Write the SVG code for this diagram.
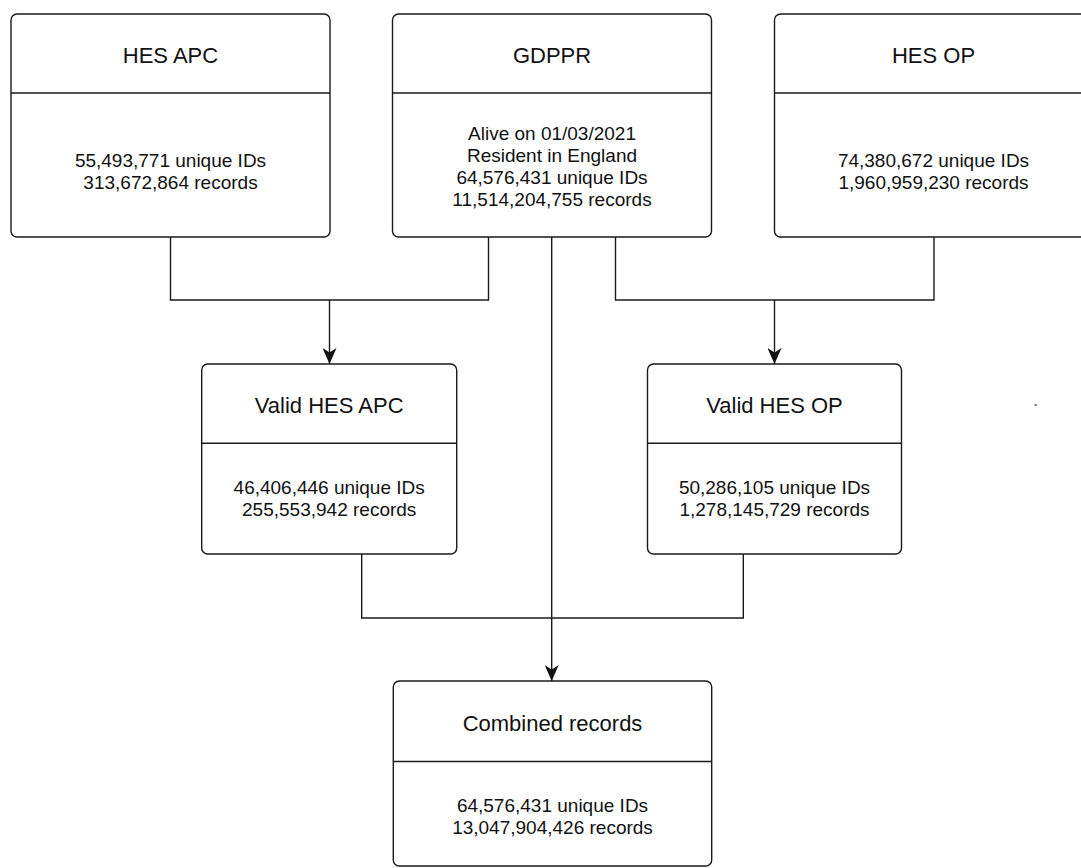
<svg xmlns="http://www.w3.org/2000/svg" width="1081" height="868" viewBox="0 0 1081 868">
<style>
.box{fill:#ffffff;stroke:#1a1a1a;stroke-width:1.4}
.div{stroke:#1a1a1a;stroke-width:1.4;fill:none}
.conn{stroke:#1a1a1a;stroke-width:1.4;fill:none}
.title{font-family:"Liberation Sans",Arial,sans-serif;font-size:22px;fill:#111;text-anchor:middle}
.body{font-family:"Liberation Sans",Arial,sans-serif;font-size:19px;fill:#111;text-anchor:middle}
</style>
<defs>
<marker id="arrow" markerUnits="userSpaceOnUse" viewBox="0 0 16 14" refX="16" refY="7" markerWidth="16" markerHeight="14" orient="auto">
<path d="M0,0 L16,7 L0,14 L4.5,7 Z" fill="#111"/>
</marker>
</defs>
<rect width="1081" height="868" fill="#ffffff"/>
<g id="connectors">
<polyline class="conn" points="170.5,237 170.5,300 488.5,300 488.5,237"/>
<line class="conn" x1="329.5" y1="300" x2="329.5" y2="364" marker-end="url(#arrow)"/>
<polyline class="conn" points="615.5,237 615.5,300 934,300 934,237"/>
<line class="conn" x1="774.5" y1="300" x2="774.5" y2="364" marker-end="url(#arrow)"/>
<polyline class="conn" points="361.7,554 361.7,618 743.3,618 743.3,554"/>
<line class="conn" x1="551.7" y1="237" x2="551.7" y2="681" marker-end="url(#arrow)"/>
</g>
<g id="hes-apc">
<rect class="box" x="11" y="14" width="319" height="223" rx="6"/>
<line class="div" x1="11" y1="93" x2="330" y2="93"/>
<text class="title" x="170.5" y="62.5">HES APC</text>
<text class="body" x="170.5" y="166.5">55,493,771 unique IDs</text>
<text class="body" x="170.5" y="188.5">313,672,864 records</text>
</g>
<g id="gdppr">
<rect class="box" x="392.5" y="14" width="319" height="223" rx="6"/>
<line class="div" x1="392.5" y1="93" x2="711.5" y2="93"/>
<text class="title" x="552" y="62.5">GDPPR</text>
<text class="body" x="552" y="139.5">Alive on 01/03/2021</text>
<text class="body" x="552" y="161.5">Resident in England</text>
<text class="body" x="552" y="183.5">64,576,431 unique IDs</text>
<text class="body" x="552" y="205.5">11,514,204,755 records</text>
</g>
<g id="hes-op">
<rect class="box" x="774.5" y="14" width="319" height="223" rx="6"/>
<line class="div" x1="774.5" y1="93" x2="1093.5" y2="93"/>
<text class="title" x="933.5" y="62.5">HES OP</text>
<text class="body" x="933.5" y="166.5">74,380,672 unique IDs</text>
<text class="body" x="933.5" y="188.5">1,960,959,230 records</text>
</g>
<g id="valid-hes-apc">
<rect class="box" x="201.7" y="364" width="255" height="190" rx="6"/>
<line class="div" x1="201.7" y1="443.3" x2="456.7" y2="443.3"/>
<text class="title" x="329.2" y="412.5">Valid HES APC</text>
<text class="body" x="329.2" y="494">46,406,446 unique IDs</text>
<text class="body" x="329.2" y="516">255,553,942 records</text>
</g>
<g id="valid-hes-op">
<rect class="box" x="647.5" y="364" width="254" height="190" rx="6"/>
<line class="div" x1="647.5" y1="443.3" x2="901.5" y2="443.3"/>
<text class="title" x="774.5" y="412.5">Valid HES OP</text>
<text class="body" x="774.5" y="494">50,286,105 unique IDs</text>
<text class="body" x="774.5" y="516">1,278,145,729 records</text>
</g>
<g id="combined-records">
<rect class="box" x="393.3" y="681" width="318.4" height="185" rx="6"/>
<line class="div" x1="393.3" y1="761.5" x2="711.7" y2="761.5"/>
<text class="title" x="552.5" y="730.5">Combined records</text>
<text class="body" x="552.5" y="811.5">64,576,431 unique IDs</text>
<text class="body" x="552.5" y="833.5">13,047,904,426 records</text>
</g>
<circle cx="1035.7" cy="405" r="1.2" fill="#777"/>
</svg>
